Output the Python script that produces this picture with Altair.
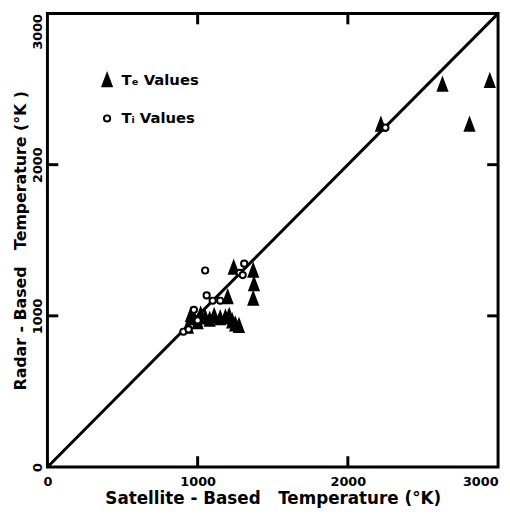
import altair as alt
import pandas as pd

# Te values (filled triangles)
sat_e = [935, 955, 975, 1000, 1020, 1050, 1080, 1110, 1150, 1185, 1210, 1230, 1250, 1275,
         1200, 1240, 1370, 1375, 1370, 2220, 2630, 2810, 2945]
rad_e = [930, 1005, 985, 960, 1010, 990, 975, 1000, 985, 990, 1000, 965, 945, 935,
         1125, 1320, 1300, 1210, 1115, 2265, 2530, 2265, 2555]
# Ti values (open circles)
sat_i = [905, 940, 975, 1000, 1050, 1060, 1100, 1150, 1280, 1300, 1310, 2250]
rad_i = [895, 910, 1040, 970, 1300, 1135, 1100, 1100, 1285, 1270, 1345, 2245]

kinds = ["T\u2091 Values", "T\u1d62 Values"]
tick_vals = [1000, 2000]
axis_vals = [0, 1000, 2000, 3000]
diag = [0, 3000]

W, H = 457, 460
FONT = "DejaVu Sans"

df = pd.DataFrame({
    "sat": sat_e + sat_i,
    "rad": rad_e + rad_i,
    "kind": [kinds[0]] * len(sat_e) + [kinds[1]] * len(sat_i),
})
df_line = pd.DataFrame({"sat": diag, "rad": diag})
df_ticks = pd.DataFrame({"v": tick_vals})

xs = alt.Scale(domain=[0, 3000], nice=False)
ys = alt.Scale(domain=[0, 3000], nice=False)

x_axis = alt.Axis(values=axis_vals, format="d",
                  title="Satellite - Based\u00a0\u00a0 Temperature (\u00b0K)",
                  labelAlign=alt.expr("datum.value == 3000 ? 'right' : 'center'"),
                  labelPadding=9, titlePadding=2, titleFontSize=17)
y_axis = alt.Axis(values=axis_vals, format="d",
                  title="Radar - Based\u00a0\u00a0 Temperature (\u00b0K )",
                  labelAngle=-90,
                  labelAlign=alt.expr("datum.value == 3000 ? 'right' : 'center'"),
                  labelBaseline="bottom",
                  labelPadding=3, titlePadding=3, titleFontSize=16)

tri = "M0,-1L0.75,1L-0.75,1Z"
leg = alt.Legend(title=None)

points = alt.Chart(df).mark_point(strokeWidth=2, opacity=1).encode(
    x=alt.X("sat:Q", scale=xs, axis=x_axis),
    y=alt.Y("rad:Q", scale=ys, axis=y_axis),
    shape=alt.Shape("kind:N", scale=alt.Scale(domain=kinds, range=[tri, "circle"]), legend=leg),
    fill=alt.Fill("kind:N", scale=alt.Scale(domain=kinds, range=["black", "white"]), legend=leg),
    stroke=alt.Stroke("kind:N", scale=alt.Scale(domain=kinds, range=["black", "black"]), legend=leg),
    size=alt.Size("kind:N", scale=alt.Scale(domain=kinds, range=[160, 40]), legend=leg),
)

line = alt.Chart(df_line).mark_line(color="black", strokeWidth=3, clip=True).encode(
    x=alt.X("sat:Q", scale=xs), y=alt.Y("rad:Q", scale=ys))

tick_len = 11
vtick = dict(color="black", thickness=3, size=tick_len, opacity=1)
bottom = alt.Chart(df_ticks).mark_tick(orient="vertical", **vtick).encode(
    x=alt.X("v:Q", scale=xs), y=alt.value(H - tick_len / 2))
top = alt.Chart(df_ticks).mark_tick(orient="vertical", **vtick).encode(
    x=alt.X("v:Q", scale=xs), y=alt.value(tick_len / 2))
left = alt.Chart(df_ticks).mark_tick(orient="horizontal", **vtick).encode(
    y=alt.Y("v:Q", scale=ys), x=alt.value(tick_len / 2))
right = alt.Chart(df_ticks).mark_tick(orient="horizontal", **vtick).encode(
    y=alt.Y("v:Q", scale=ys), x=alt.value(W - tick_len / 2))

chart = alt.layer(line, bottom, top, left, right, points).properties(
    width=W, height=H,
    autosize=alt.AutoSizeParams(type="none"),
    padding={"left": 40, "top": 2, "right": 4, "bottom": 40},
).configure_view(
    stroke="black", strokeWidth=3
).configure_axis(
    domain=False, ticks=False, grid=False,
    labelFont=FONT, labelFontWeight="bold", labelFontSize=13, labelColor="black",
    titleFont=FONT, titleFontWeight="bold", titleColor="black",
).configure_legend(
    orient="none", legendX=53, legendY=60, padding=0, rowPadding=21,
    labelFont=FONT, labelFontWeight="bold", labelFontSize=15, labelColor="black",
    labelOffset=7, symbolStrokeWidth=2,
)

chart.save("out.html", embed_options={"renderer": "svg", "actions": False})
